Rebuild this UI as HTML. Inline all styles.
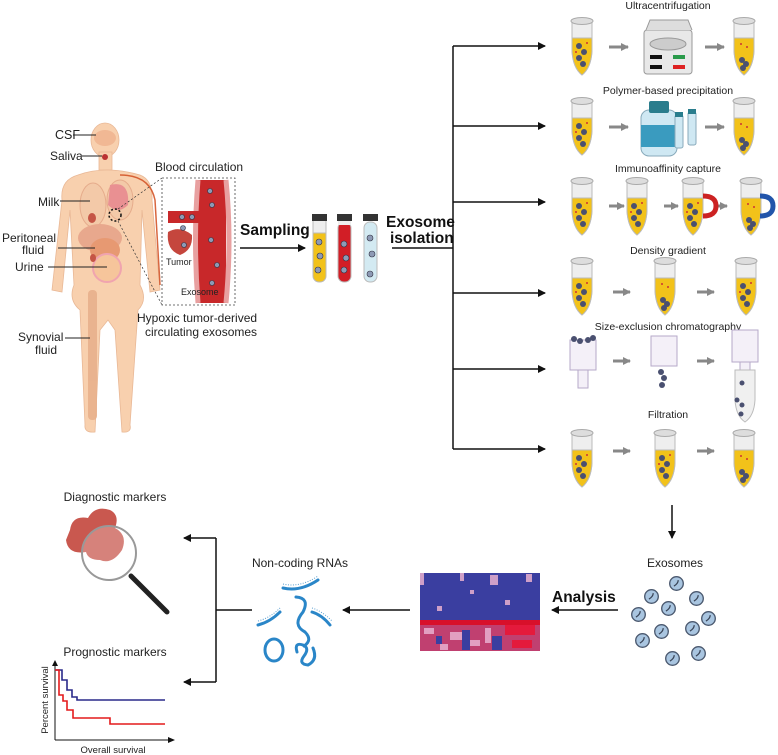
<!DOCTYPE html>
<html><head><meta charset="utf-8"><style>
html,body{margin:0;padding:0;background:#fff;}
svg{display:block;font-family:"Liberation Sans",Arial,sans-serif;}
</style></head><body>
<svg width="778" height="755" viewBox="0 0 778 755" xmlns="http://www.w3.org/2000/svg">
<defs>
<marker id="ah" markerWidth="8" markerHeight="8" refX="7" refY="4" orient="auto" markerUnits="userSpaceOnUse"><path d="M0,0 L8,4 L0,8 z" fill="#111"/></marker>
<marker id="ga" markerWidth="8" markerHeight="8" refX="7" refY="4" orient="auto" markerUnits="userSpaceOnUse"><path d="M0,0 L8,4 L0,8 z" fill="#888"/></marker>
<symbol id="tube" viewBox="0 0 26 60">
<path d="M3,6 L23,6 L23,35 Q22,52 13,59 Q4,52 3,35 Z" fill="#eee" stroke="#bbb"/>
<path d="M3,22 L23,22 L23,35 Q22,52 13,59 Q4,52 3,35 Z" fill="#f2c21a" stroke="#bbb"/>
<ellipse cx="13" cy="5" rx="11" ry="3.5" fill="#ddd" stroke="#aaa"/>
<circle cx="10" cy="30" r="3" fill="#4a5070"/><circle cx="15" cy="36" r="3" fill="#4a5070"/><circle cx="10" cy="42" r="3" fill="#4a5070"/><circle cx="14" cy="48" r="3" fill="#4a5070"/>
<circle cx="18" cy="27" r="1" fill="#c33"/><circle cx="7" cy="36" r="1" fill="#c33"/>
</symbol>
<symbol id="tube2" viewBox="0 0 26 60">
<path d="M3,6 L23,6 L23,35 Q22,52 13,59 Q4,52 3,35 Z" fill="#eee" stroke="#bbb"/>
<path d="M3,22 L23,22 L23,35 Q22,52 13,59 Q4,52 3,35 Z" fill="#f2c21a" stroke="#bbb"/>
<ellipse cx="13" cy="5" rx="11" ry="3.5" fill="#ddd" stroke="#aaa"/>
<circle cx="10" cy="28" r="1" fill="#c33"/><circle cx="16" cy="31" r="1" fill="#c33"/>
<circle cx="11" cy="44" r="3" fill="#4a5070"/><circle cx="15" cy="48" r="3" fill="#4a5070"/><circle cx="12" cy="52" r="3" fill="#4a5070"/>
</symbol>
<symbol id="exo" viewBox="0 0 20 20"><circle cx="10" cy="10" r="8" fill="#a9c5e0" stroke="#4c5a70" stroke-width="1.6"/><path d="M7,13 Q12,10 12,6" stroke="#3a4558" stroke-width="1.5" fill="none"/></symbol>
</defs>

<!-- BODY -->
<g fill="#f8d0ae" stroke="#e9b896" stroke-width="0.8">
<ellipse cx="105" cy="140" rx="14" ry="17"/>
<rect x="99" y="152" width="13" height="18"/>
<path d="M78,175 Q105,165 140,175 Q153,180 152,200 L160,290 L150,292 L142,210 L140,285 Q148,300 138,310 L130,425 Q132,433 122,432 L115,330 L108,320 L100,330 L95,432 Q84,433 85,425 L80,310 Q68,300 74,285 L70,210 L62,292 L52,290 L62,200 Q60,180 78,175 Z"/>
</g>
<ellipse cx="105" cy="138" rx="11" ry="8" fill="#f1b894"/>
<ellipse cx="105" cy="157" rx="3" ry="3" fill="#b33"/>
<g opacity="0.9">
<ellipse cx="93" cy="205" rx="13" ry="22" fill="#f3c9a8" stroke="#e4a888"/>
<ellipse cx="120" cy="200" rx="13" ry="20" fill="#f3c9a8" stroke="#e4a888"/>
<path d="M110,185 Q130,180 128,205 Q118,215 108,205 Z" fill="#e88a8f"/>
<path d="M120,175 Q150,175 155,200 L160,285" stroke="#d4562a" stroke-width="1.5" fill="none"/>
<ellipse cx="100" cy="238" rx="22" ry="14" fill="#e7a48a"/>
<ellipse cx="92" cy="218" rx="4" ry="5" fill="#c0483a"/>
<ellipse cx="105" cy="250" rx="15" ry="12" fill="#e6946c"/>
<circle cx="107" cy="268" r="14" fill="#f6c49a" stroke="#f0a0b0" stroke-width="2"/>
<ellipse cx="93" cy="258" rx="3" ry="4" fill="#c0483a"/>
<rect x="88" y="290" width="9" height="130" rx="4" fill="#e8b08c"/>
</g>
<circle cx="115" cy="215" r="6" fill="none" stroke="#111" stroke-width="1.5" stroke-dasharray="2,2"/>
<line x1="118" y1="209" x2="162" y2="178" stroke="#333" stroke-width="0.7" stroke-dasharray="2,2"/>
<line x1="118" y1="221" x2="162" y2="305" stroke="#333" stroke-width="0.7" stroke-dasharray="2,2"/>
<g stroke="#222" stroke-width="1">
<line x1="73" y1="135" x2="96" y2="135"/><line x1="82" y1="156" x2="102" y2="156"/>
<line x1="60" y1="201" x2="90" y2="201"/><line x1="58" y1="248" x2="95" y2="248"/>
<line x1="48" y1="267" x2="107" y2="267"/><line x1="65" y1="338" x2="90" y2="338"/>
</g>
<g font-size="12" fill="#222">
<text x="55" y="139" font-size="12.5">CSF</text>
<text x="50" y="160">Saliva</text>
<text x="38" y="206">Milk</text>
<text x="2" y="242">Peritoneal</text><text x="22" y="254">fluid</text>
<text x="15" y="271">Urine</text>
<text x="18" y="341">Synovial</text><text x="35" y="354">fluid</text>
<text x="155" y="171">Blood circulation</text>
<text x="137" y="322">Hypoxic tumor-derived</text>
<text x="145" y="336">circulating exosomes</text>
</g>
<!-- inset -->
<rect x="162" y="178" width="73" height="127" fill="#fff" stroke="#444" stroke-width="0.8" stroke-dasharray="2,2"/>
<path d="M198,180 L226,180 L226,303 L198,303 Z" fill="#c8282a"/>
<path d="M198,180 Q193,240 198,303 M226,180 Q232,240 226,303" stroke="#e8a0a0" stroke-width="5" fill="none"/>
<rect x="168" y="211" width="32" height="12" fill="#c8282a"/>
<path d="M168,232 Q180,225 192,235 Q193,250 180,255 Q166,250 168,232 Z" fill="#c5463d"/>
<g fill="#8d9ab5" stroke="#334" stroke-width="0.6">
<circle cx="210" cy="191" r="2.5"/><circle cx="212" cy="205" r="2.5"/><circle cx="182" cy="217" r="2.5"/><circle cx="192" cy="217" r="2.5"/><circle cx="183" cy="228" r="2.5"/><circle cx="184" cy="245" r="2.5"/><circle cx="211" cy="240" r="2.5"/><circle cx="217" cy="265" r="2.5"/><circle cx="212" cy="283" r="2.5"/>
</g>
<text x="166" y="265" font-size="9" fill="#222">Tumor</text>
<text x="181" y="295" font-size="9" fill="#222">Exosome</text>

<!-- Sampling -->
<text x="240" y="235" font-size="15.5" font-weight="bold" fill="#111">Sampling</text>
<line x1="240" y1="248" x2="305" y2="248" stroke="#111" stroke-width="1.5" marker-end="url(#ah)"/>
<g>
<rect x="313" y="222" width="13" height="60" rx="6" fill="#f2c21a" stroke="#bbb"/><rect x="313" y="218" width="13" height="15" fill="#eee" stroke="#bbb"/><rect x="312" y="214" width="15" height="7" fill="#333"/>
<rect x="338" y="222" width="13" height="60" rx="6" fill="#d21e26" stroke="#bbb"/><rect x="338" y="218" width="13" height="7" fill="#eee"/><rect x="337" y="214" width="15" height="7" fill="#333"/>
<rect x="364" y="222" width="13" height="60" rx="6" fill="#d3eaf2" stroke="#bbb"/><rect x="363" y="214" width="15" height="7" fill="#333"/>
<g fill="#8d9ab5" stroke="#334" stroke-width="0.6"><circle cx="319" cy="242" r="3"/><circle cx="320" cy="256" r="3"/><circle cx="318" cy="270" r="3"/><circle cx="344" cy="244" r="3"/><circle cx="346" cy="258" r="3"/><circle cx="344" cy="270" r="3"/><circle cx="370" cy="238" r="3"/><circle cx="372" cy="254" r="3"/><circle cx="370" cy="274" r="3"/></g>
</g>
<text x="386" y="227" font-size="15.5" font-weight="bold" fill="#111">Exosome</text>
<text x="390" y="243" font-size="15.5" font-weight="bold" fill="#111">isolation</text>

<!-- branches -->
<g stroke="#111" stroke-width="1.5" fill="none">
<line x1="392" y1="248" x2="453" y2="248"/>
<line x1="453" y1="46" x2="453" y2="449"/>
<line x1="453" y1="46" x2="545" y2="46" marker-end="url(#ah)"/>
<line x1="453" y1="126" x2="545" y2="126" marker-end="url(#ah)"/>
<line x1="453" y1="202" x2="545" y2="202" marker-end="url(#ah)"/>
<line x1="453" y1="293" x2="545" y2="293" marker-end="url(#ah)"/>
<line x1="453" y1="369" x2="545" y2="369" marker-end="url(#ah)"/>
<line x1="453" y1="449" x2="545" y2="449" marker-end="url(#ah)"/>
</g>
<g font-size="10.5" fill="#222" text-anchor="middle">
<text x="668" y="9">Ultracentrifugation</text>
<text x="668" y="94">Polymer-based precipitation</text>
<text x="668" y="172">Immunoaffinity capture</text>
<text x="668" y="254">Density gradient</text>
<text x="668" y="330">Size-exclusion chromatography</text>
<text x="668" y="418">Filtration</text>
</g>
<!-- gray arrows -->
<g stroke="#888" stroke-width="3" marker-end="url(#ga)">
<line x1="609" y1="47" x2="628" y2="47"/><line x1="705" y1="47" x2="724" y2="47"/>
<line x1="609" y1="127" x2="628" y2="127"/><line x1="705" y1="127" x2="724" y2="127"/>
<line x1="609" y1="206" x2="624" y2="206"/><line x1="664" y1="206" x2="678" y2="206"/><line x1="715" y1="206" x2="727" y2="206"/>
<line x1="613" y1="292" x2="630" y2="292"/><line x1="697" y1="292" x2="714" y2="292"/>
<line x1="613" y1="361" x2="630" y2="361"/><line x1="697" y1="361" x2="714" y2="361"/>
<line x1="613" y1="451" x2="630" y2="451"/><line x1="697" y1="451" x2="714" y2="451"/>
</g>
<!-- row 1 -->
<use href="#tube" x="569" y="16" width="26" height="60"/>
<use href="#tube2" x="731" y="16" width="26" height="60"/>
<rect x="644" y="30" width="48" height="44" rx="3" fill="#e8e8e8" stroke="#999"/>
<path d="M646,30 L650,20 L688,20 L692,30" fill="#ddd" stroke="#999"/>
<ellipse cx="668" cy="44" rx="18" ry="6" fill="#ccc" stroke="#999"/>
<rect x="650" y="55" width="12" height="4" fill="#111"/><rect x="673" y="55" width="12" height="4" fill="#2a9a4a"/>
<rect x="650" y="65" width="12" height="4" fill="#111"/><rect x="673" y="65" width="12" height="4" fill="#d22"/>
<!-- row 2 -->
<use href="#tube" x="569" y="96" width="26" height="60"/>
<use href="#tube2" x="731" y="96" width="26" height="60"/>
<rect x="641" y="110" width="36" height="46" rx="8" fill="#cfe8f3" stroke="#8ab"/>
<rect x="641" y="125" width="36" height="22" fill="#3a9bbf"/>
<rect x="649" y="101" width="20" height="12" rx="2" fill="#2a7d8d"/>
<rect x="675" y="115" width="8" height="33" rx="2" fill="#cfe8f3" stroke="#8ab"/><rect x="675" y="112" width="8" height="5" fill="#2a7d8d"/>
<rect x="688" y="112" width="8" height="33" rx="2" fill="#cfe8f3" stroke="#8ab"/><rect x="688" y="109" width="8" height="5" fill="#2a7d8d"/>
<!-- row 3 -->
<use href="#tube" x="569" y="176" width="26" height="60"/>
<use href="#tube" x="624" y="176" width="26" height="60"/>
<use href="#tube" x="680" y="176" width="26" height="60"/>
<use href="#tube2" x="738" y="176" width="26" height="60"/>
<path d="M703,196 Q716,196 716,206 Q716,216 703,216" stroke="#c22" stroke-width="5" fill="none"/>
<path d="M760,196 Q773,196 773,206 Q773,216 760,216" stroke="#2255aa" stroke-width="5" fill="none"/>
<!-- row 4 -->
<use href="#tube" x="569" y="256" width="26" height="60"/>
<use href="#tube2" x="652" y="256" width="26" height="60"/>
<use href="#tube" x="733" y="256" width="26" height="60"/>
<!-- row 5 SEC -->
<g fill="#f4f0f8" stroke="#b6a9c9">
<rect x="570" y="340" width="26" height="30"/><rect x="578" y="370" width="10" height="18"/>
<rect x="651" y="336" width="26" height="30"/>
<rect x="732" y="330" width="26" height="32"/><rect x="740" y="362" width="10" height="10"/>
<path d="M735,370 L755,370 L755,400 Q754,416 745,422 Q736,416 735,400 Z" fill="#f0f0f0" stroke="#bbb"/>
</g>
<g fill="#4a5070"><circle cx="574" cy="339" r="3"/><circle cx="580" cy="341" r="3"/><circle cx="588" cy="340" r="3"/><circle cx="593" cy="338" r="3"/>
<circle cx="661" cy="372" r="3"/><circle cx="664" cy="378" r="3"/><circle cx="662" cy="385" r="3"/>
<circle cx="742" cy="383" r="2.5"/><circle cx="737" cy="400" r="2.5"/><circle cx="742" cy="405" r="2.5"/><circle cx="741" cy="414" r="2.5"/></g>
<!-- row 6 -->
<use href="#tube" x="569" y="428" width="26" height="60"/>
<use href="#tube" x="652" y="428" width="26" height="60"/>
<use href="#tube2" x="731" y="428" width="26" height="60"/>

<!-- bottom flow -->
<line x1="672" y1="505" x2="672" y2="538" stroke="#111" stroke-width="1.5" marker-end="url(#ah)"/>
<text x="675" y="567" font-size="12" fill="#222" text-anchor="middle">Exosomes</text>
<use href="#exo" x="668" y="575" width="17" height="17"/><use href="#exo" x="643" y="588" width="17" height="17"/><use href="#exo" x="688" y="590" width="17" height="17"/>
<use href="#exo" x="660" y="600" width="17" height="17"/><use href="#exo" x="630" y="606" width="17" height="17"/><use href="#exo" x="700" y="610" width="17" height="17"/>
<use href="#exo" x="684" y="620" width="17" height="17"/><use href="#exo" x="653" y="623" width="17" height="17"/><use href="#exo" x="634" y="632" width="17" height="17"/>
<use href="#exo" x="690" y="645" width="17" height="17"/><use href="#exo" x="664" y="650" width="17" height="17"/>
<text x="552" y="602" font-size="15.5" font-weight="bold" fill="#111">Analysis</text>
<line x1="618" y1="610" x2="552" y2="610" stroke="#111" stroke-width="1.5" marker-end="url(#ah)"/>
<!-- heatmap -->
<rect x="420" y="573" width="120" height="78" fill="#3a3ea0"/>
<rect x="420" y="620" width="120" height="5" fill="#d8102a"/>
<rect x="420" y="625" width="120" height="26" fill="#c04070"/>
<g fill="#e8b0d0" opacity="0.85">
<rect x="420" y="573" width="4" height="12"/><rect x="460" y="573" width="4" height="8"/><rect x="490" y="575" width="8" height="10"/><rect x="526" y="574" width="6" height="8"/>
<rect x="505" y="600" width="5" height="5"/><rect x="470" y="590" width="4" height="4"/><rect x="437" y="606" width="5" height="5"/>
<rect x="424" y="628" width="10" height="6"/><rect x="450" y="632" width="12" height="8"/><rect x="470" y="640" width="10" height="6"/><rect x="440" y="644" width="8" height="6"/><rect x="485" y="628" width="6" height="15"/>
</g>
<g fill="#3a3ea0"><rect x="462" y="630" width="8" height="20"/><rect x="492" y="636" width="10" height="14"/><rect x="436" y="636" width="6" height="8"/></g>
<g fill="#e41a3c"><rect x="505" y="625" width="30" height="10"/><rect x="512" y="640" width="20" height="8"/></g>
<line x1="410" y1="610" x2="343" y2="610" stroke="#111" stroke-width="1.5" marker-end="url(#ah)"/>
<text x="300" y="567" font-size="12" fill="#222" text-anchor="middle">Non-coding RNAs</text>
<g stroke="#2a86c8" stroke-width="3" fill="none" stroke-linecap="round">
<path d="M283,588 Q300,592 318,580"/>
<path d="M296,597 Q310,598 303,612 Q292,625 305,632 Q313,640 304,646"/>
<path d="M258,625 Q270,622 280,612"/>
<path d="M312,612 Q322,615 330,625"/>
<ellipse cx="274" cy="650" rx="9" ry="11"/>
<path d="M297,652 Q294,642 303,645 Q310,648 304,656 Q298,664 308,665 Q318,660 313,648"/>
</g>
<g stroke="#5a9fd0" stroke-width="1" fill="none" stroke-dasharray="1,1.5">
<path d="M283,584 Q300,588 318,576"/><path d="M258,621 Q270,618 280,608"/><path d="M312,608 Q322,611 332,621"/>
</g>
<!-- bracket -->
<g stroke="#111" stroke-width="1.5" fill="none">
<line x1="252" y1="610" x2="216" y2="610"/>
<line x1="216" y1="538" x2="216" y2="682"/>
<line x1="216" y1="538" x2="184" y2="538" marker-end="url(#ah)"/>
<line x1="216" y1="682" x2="184" y2="682" marker-end="url(#ah)"/>
</g>
<text x="115" y="501" font-size="12" fill="#222" text-anchor="middle">Diagnostic markers</text>
<path d="M70,530 Q72,515 88,518 Q95,505 110,510 Q120,515 115,528 Q128,535 122,550 Q112,565 100,560 Q88,560 86,552 Q68,555 66,540 Z" fill="#c9584f"/>
<circle cx="109" cy="553" r="27" fill="rgba(255,255,255,0.25)" stroke="#999" stroke-width="2"/>
<line x1="131" y1="576" x2="167" y2="612" stroke="#222" stroke-width="5" stroke-linecap="round"/>
<text x="115" y="656" font-size="12" fill="#222" text-anchor="middle">Prognostic  markers</text>
<g stroke="#111" stroke-width="1" fill="none">
<line x1="55" y1="662" x2="55" y2="740"/><line x1="55" y1="740" x2="174" y2="740"/>
</g>
<path d="M52,666 L55,660 L58,666 Z M168,737 L175,740 L168,743 Z" fill="#111"/>
<path d="M55,670 L62,670 L62,680 L67,680 L67,690 L72,690 L72,697 L77,697 L77,700 L165,700" stroke="#2a2a8a" stroke-width="1.6" fill="none"/>
<path d="M55,670 L59,670 L59,695 L63,695 L63,701 L67,701 L67,710 L73,710 L73,718 L110,718 L110,724 L165,724" stroke="#e41a1c" stroke-width="1.6" fill="none"/>
<text x="48" y="700" font-size="9.5" fill="#222" text-anchor="middle" transform="rotate(-90 48 700)">Percent survival</text>
<text x="113" y="753" font-size="9.5" fill="#222" text-anchor="middle">Overall survival</text>
</svg>
</body></html>
